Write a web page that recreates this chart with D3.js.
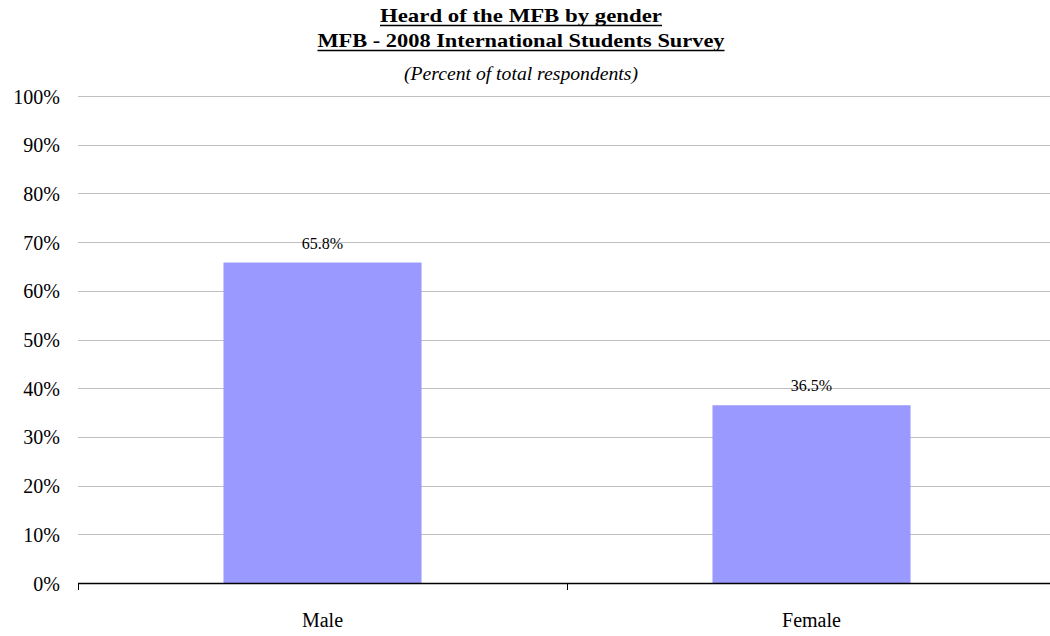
<!DOCTYPE html>
<html>
<head>
<meta charset="utf-8">
<script src="https://cdn.jsdelivr.net/npm/d3@7"></script>
<style>
  html, body { margin: 0; padding: 0; background: #fff; }
  svg { display: block; }
  text { font-family: "Liberation Serif", "DejaVu Serif", serif; fill: #000; }
</style>
</head>
<body>
<svg id="chart" width="1050" height="636"></svg>
<script>
// Survey results: share of respondents who had heard of the MFB
const categories = ["Male", "Female"];
const values = [65.8, 36.5];
const valueLabels = ["65.8%", "36.5%"];
const yTicks = [0, 10, 20, 30, 40, 50, 60, 70, 80, 90, 100];
const titleLines = ["Heard of the MFB by gender", "MFB - 2008 International Students Survey"];
const subtitle = "(Percent of total respondents)";

const svg = d3.select("#chart");
const margin = { left: 78, right: -6, top: 96, bottom: 53 };
const W = 1050, H = 636;
const x0 = margin.left, x1 = W - margin.right;
const y0 = H - margin.bottom, y1 = margin.top;

const x = d3.scaleBand().domain(categories).range([x0, x1]).paddingInner(0.595).paddingOuter(0.2975);
const y = d3.scaleLinear().domain([0, 100]).range([y0, y1]);

// Horizontal gridlines
svg.append("g")
  .selectAll("line")
  .data(yTicks.filter(d => d > 0))
  .join("line")
  .attr("x1", x0).attr("x2", x1)
  .attr("y1", d => Math.round(y(d)) + 0.5).attr("y2", d => Math.round(y(d)) + 0.5)
  .attr("stroke", "#c0c0c0").attr("stroke-width", 1);

// Y axis labels
const yAxis = d3.axisLeft(y).tickValues(yTicks).tickFormat(d => d + "%").tickSize(0).tickPadding(18);
const gy = svg.append("g").attr("transform", `translate(${x0},0)`).call(yAxis);
gy.select(".domain").remove();
gy.selectAll("text")
  .style("font-family", '"Liberation Serif", serif')
  .style("font-size", "20px").attr("fill", "#000").attr("dy", "0.35em");

// Bars
svg.append("g")
  .selectAll("rect")
  .data(values)
  .join("rect")
  .attr("x", (d, i) => x(categories[i]))
  .attr("width", x.bandwidth())
  .attr("y", d => y(d))
  .attr("height", d => y0 - y(d))
  .attr("fill", "#9999ff");

// Value labels
svg.append("g")
  .selectAll("text")
  .data(values)
  .join("text")
  .attr("x", (d, i) => x(categories[i]) + x.bandwidth() / 2)
  .attr("y", d => y(d) - 14)
  .attr("text-anchor", "middle")
  .style("font-size", "16px")
  .text((d, i) => valueLabels[i]);

// X axis with category boundary ticks
const gx = svg.append("g");
gx.append("line")
  .attr("x1", x0).attr("x2", x1)
  .attr("y1", y0 + 0.5).attr("y2", y0 + 0.5)
  .attr("stroke", "#000").attr("stroke-width", 1.5);
const boundaries = d3.range(categories.length + 1).map(i => x0 + i * (x1 - x0) / categories.length);
gx.selectAll("line.tick")
  .data(boundaries)
  .join("line").attr("class", "tick")
  .attr("x1", d => Math.round(d) + 0.5).attr("x2", d => Math.round(d) + 0.5)
  .attr("y1", y0).attr("y2", y0 + 7)
  .attr("stroke", "#000").attr("stroke-width", 1);
gx.selectAll("text")
  .data(categories)
  .join("text")
  .attr("x", d => x(d) + x.bandwidth() / 2)
  .attr("y", 627)
  .attr("text-anchor", "middle")
  .style("font-size", "20px")
  .text(d => d);

// Titles (bold, underlined)
const cx = 521;
const titleWidths = [282, 407];
const tl = svg.append("g");
titleLines.forEach((t, i) => {
  const by = 22 + i * 25;
  tl.append("text")
    .attr("x", cx).attr("y", by)
    .attr("text-anchor", "middle")
    .attr("textLength", titleWidths[i]).attr("lengthAdjust", "spacingAndGlyphs")
    .style("font-size", "19px").style("font-weight", "bold")
    .text(t);
  tl.append("line")
    .attr("x1", cx - titleWidths[i] / 2).attr("x2", cx + titleWidths[i] / 2)
    .attr("y1", by + 3.5).attr("y2", by + 3.5)
    .attr("stroke", "#000").attr("stroke-width", 1.5);
});
svg.append("text")
  .attr("x", cx).attr("y", 80)
  .attr("text-anchor", "middle")
  .attr("textLength", 234).attr("lengthAdjust", "spacingAndGlyphs")
  .style("font-size", "18px").style("font-style", "italic")
  .text(subtitle);
</script>
</body>
</html>
